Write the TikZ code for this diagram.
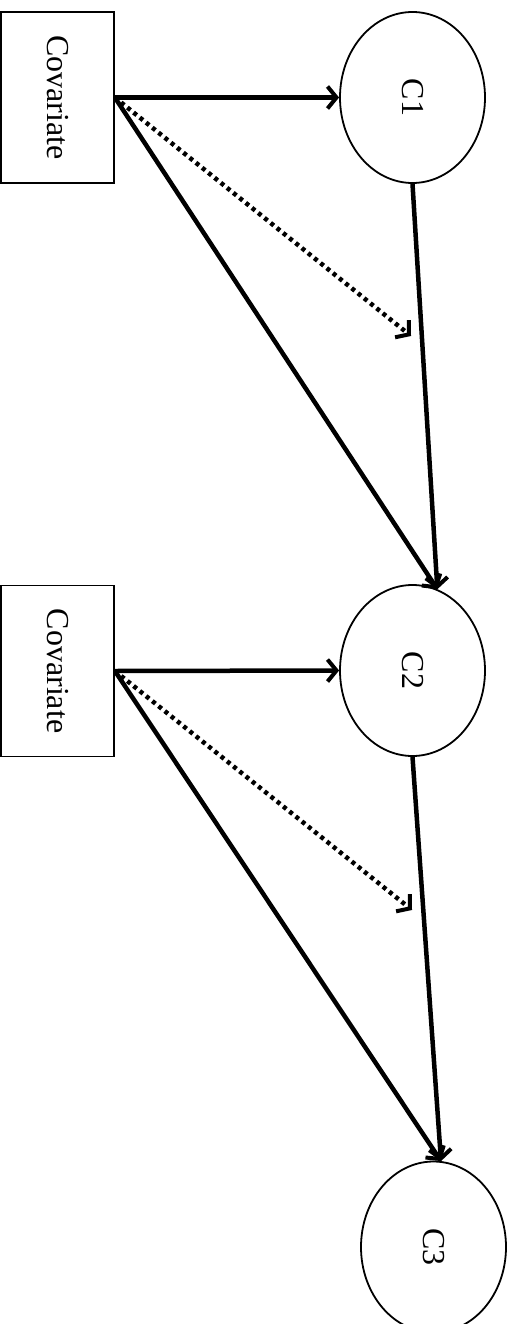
\documentclass[tikz,border=0pt]{standalone}
\usepackage{fontspec}
\setmainfont{Liberation Serif}
\usetikzlibrary{arrows.meta,shapes.geometric}
\begin{document}
\begin{tikzpicture}[x=1pt,y=-1pt,
  covbox/.style={draw, line width=1.8pt, rectangle, minimum width=113pt, minimum height=171pt, inner sep=0pt},
  latent/.style={draw, line width=1.8pt, ellipse, minimum width=145pt, minimum height=171pt, inner sep=0pt},
  rottext/.style={rotate=-90, font=\fontsize{32}{38}\selectfont},
  tip/.style={-{Straight Barb[length=9pt,width=22pt,line width=4pt]}},
  solidarrow/.style={tip, line width=4.5pt},
  dotarrow/.style={tip, line width=4.5pt, dash pattern=on 4pt off 4pt}
]
\useasboundingbox (0,0) rectangle (515,1324);
\node[covbox] (cov1) at (57.5,97.5) {};
\node[rottext] (cov1t) at (cov1.center) {Covariate};
\node[latent] (C1) at (412.5,97.5) {};
\node[rottext] (C1t) at (C1.center) {C1};
\node[covbox] (cov2) at (57.5,671) {};
\node[rottext] (cov2t) at (cov2.center) {Covariate};
\node[latent] (C2) at (412.5,670.5) {};
\node[rottext] (C2t) at (C2.center) {C2};
\node[latent] (C3) at (433.5,1247) {};
\node[rottext] (C3t) at (C3.center) {C3};
\coordinate (d1) at (411,336);
\coordinate (d2) at (412,910);

\draw[solidarrow] (cov1.east) -- (C1.west);
\draw[dotarrow] (cov1.east) -- (d1);
\draw[solidarrow] (cov1.east) -- (C2.73);
\draw[solidarrow] (C1.south) -- (C2.73);

\draw[solidarrow] (cov2.east) -- (C2.west);
\draw[dotarrow] (cov2.east) -- (d2);
\draw[solidarrow] (cov2.east) -- (C3.85);
\draw[solidarrow] (C2.south) -- (C3.85);
\end{tikzpicture}
\end{document}
